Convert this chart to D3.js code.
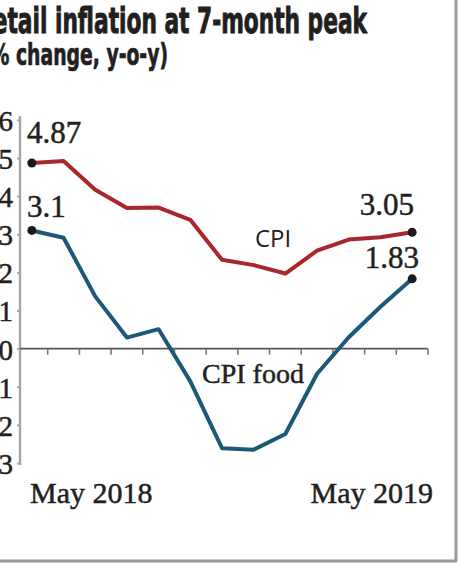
<!DOCTYPE html>
<html>
<head>
<meta charset="utf-8">
<script src="https://cdn.jsdelivr.net/npm/d3@7"></script>
<style>
  body { margin: 0; background: #fff; }
  svg { display: block; }
</style>
</head>
<body>
<div id="chart"></div>
<script>
// Chart data
var months = ["May 2018", "Jun 2018", "Jul 2018", "Aug 2018", "Sep 2018", "Oct 2018", "Nov 2018",
              "Dec 2018", "Jan 2019", "Feb 2019", "Mar 2019", "Apr 2019", "May 2019"];
var cpi = [4.87, 4.92, 4.17, 3.69, 3.70, 3.38, 2.33, 2.19, 1.97, 2.57, 2.86, 2.92, 3.05];
var cpiFood = [3.1, 2.91, 1.37, 0.29, 0.51, -0.86, -2.61, -2.65, -2.24, -0.66, 0.30, 1.10, 1.83];
var yTicks = [6, 5, 4, 3, 2, 1, 0, -1, -2, -3];
var xLabels = ["May 2018", "May 2019"];

var svgWidth = 461;
var svgHeight = 573;
var ink = "#231f20";

var svg = d3.select("#chart")
  .append("svg")
  .attr("width", svgWidth)
  .attr("height", svgHeight);

// Scales
var x = d3.scalePoint().domain(months).range([16, 428]).padding(0.5);
var y = d3.scaleLinear().domain([-3, 5]).range([463, 158]);
var step = x.step();

// Frame (shadowed border on right and bottom)
svg.append("line").attr("x1", 456).attr("x2", 456).attr("y1", 0).attr("y2", 561)
  .attr("stroke", "#9a9a9a").attr("stroke-width", 3);
svg.append("line").attr("x1", 0).attr("x2", 457).attr("y1", 561).attr("y2", 561)
  .attr("stroke", "#9a9a9a").attr("stroke-width", 3);

// Title (left edge is cropped in the original)
var narrow = "'Liberation Sans Narrow', 'DejaVu Sans Condensed', sans-serif";
svg.append("text")
  .attr("x", -24).attr("y", 33)
  .attr("font-family", narrow)
  .attr("font-weight", "bold")
  .attr("font-size", 35)
  .attr("fill", ink).attr("stroke", ink).attr("stroke-width", 0.9)
  .attr("textLength", 391)
  .attr("lengthAdjust", "spacingAndGlyphs")
  .text("Retail inflation at 7-month peak");

svg.append("text")
  .attr("x", -18).attr("y", 65)
  .attr("font-family", narrow)
  .attr("font-weight", "bold")
  .attr("font-size", 30)
  .attr("fill", ink).attr("stroke", ink).attr("stroke-width", 0.7)
  .attr("textLength", 186)
  .attr("lengthAdjust", "spacingAndGlyphs")
  .text("(% change, y-o-y)");

// Y axis
var serif = "'Liberation Serif', 'DejaVu Serif', serif";
var yAxis = d3.axisLeft(y).tickValues(yTicks).tickSize(3).tickPadding(4).tickFormat(d3.format("d"));
var yg = svg.append("g")
  .attr("transform", "translate(20,0)")
  .call(yAxis);
yg.select(".domain").attr("stroke", "#a8a8a8").attr("stroke-width", 2.5)
  .attr("d", "M0," + (y(6) - 4) + "V" + (y(-3) + 2));
yg.selectAll(".tick line").attr("stroke", "#a8a8a8").attr("stroke-width", 2);
yg.selectAll(".tick text")
  .attr("font-family", serif)
  .attr("font-size", 29)
  .attr("fill", ink).attr("stroke", ink).attr("stroke-width", 0.5)
  .attr("dy", "0.36em");

// Zero line with month ticks between points
svg.append("line")
  .attr("x1", 20).attr("x2", 428)
  .attr("y1", y(0)).attr("y2", y(0))
  .attr("stroke", "#555").attr("stroke-width", 1.6);

var bounds = months.slice(1).map(function(m) { return x(m) - step / 2; });
bounds.push(x(months[months.length - 1]) + step / 2);
svg.selectAll(".mtick")
  .data(bounds)
  .enter()
  .append("line")
  .attr("class", "mtick")
  .attr("x1", d => d).attr("x2", d => d)
  .attr("y1", y(0)).attr("y2", y(0) + 6)
  .attr("stroke", "#777").attr("stroke-width", 1.6);

// Lines
var line = d3.line()
  .x((d, i) => x(months[i]))
  .y(d => y(d));

svg.append("path")
  .datum(cpi)
  .attr("d", line)
  .attr("fill", "none")
  .attr("stroke", "#a8262c")
  .attr("stroke-width", 4)
  .attr("stroke-linejoin", "round");

svg.append("path")
  .datum(cpiFood)
  .attr("d", line)
  .attr("fill", "none")
  .attr("stroke", "#1e5878")
  .attr("stroke-width", 4)
  .attr("stroke-linejoin", "round");

// End dots
var last = months.length - 1;
var dots = [
  { m: months[0], v: cpi[0] },
  { m: months[0], v: cpiFood[0] },
  { m: months[last], v: cpi[last] },
  { m: months[last], v: cpiFood[last] }
];
svg.selectAll(".dot")
  .data(dots)
  .enter()
  .append("circle")
  .attr("class", "dot")
  .attr("cx", d => x(d.m))
  .attr("cy", d => y(d.v))
  .attr("r", 4.5)
  .attr("fill", "#1a1a1a");

// Value labels
function label(tx, ty, anchor, size, str, font) {
  return svg.append("text").attr("x", tx).attr("y", ty)
    .attr("text-anchor", anchor)
    .attr("font-family", font || serif).attr("font-size", size)
    .attr("fill", ink).attr("stroke", ink).attr("stroke-width", font ? 0 : 0.5)
    .text(str);
}
label(27, 143, "start", 31, d3.format(".2f")(cpi[0]));
label(27, 217, "start", 31, cpiFood[0]);
label(414, 215, "end", 31, d3.format(".2f")(cpi[last]));
label(419, 268, "end", 31, d3.format(".2f")(cpiFood[last]));

// Series labels
label(255, 247, "start", 24, "CPI", "'Open Sans', 'Noto Sans', sans-serif");
label(202, 383, "start", 28, "CPI food");

// Month labels
label(30, 503, "start", 30, xLabels[0]);
label(433, 503, "end", 30, xLabels[1]);
</script>
</body>
</html>
